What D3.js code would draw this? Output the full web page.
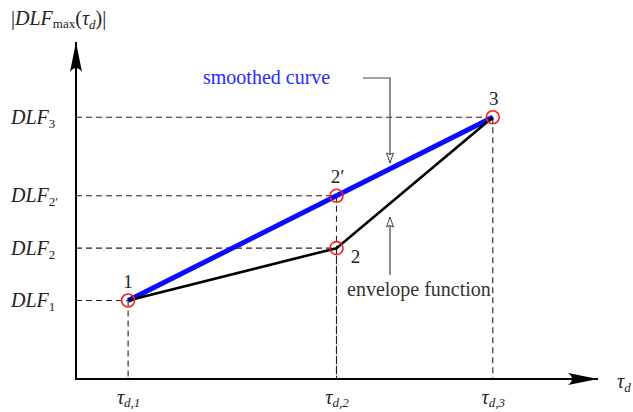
<!DOCTYPE html>
<html>
<head>
<meta charset="utf-8">
<script src="https://cdn.jsdelivr.net/npm/d3@7"></script>
<style>
  html, body { margin: 0; padding: 0; background: #fff; }
  svg { display: block; }
  text { font-family: "Liberation Serif", "DejaVu Serif", serif; fill: #222; }
</style>
</head>
<body>
<svg id="chart" width="633" height="412"></svg>
<script>
// Delay positions on the horizontal axis
const tauValues = [1, 5, 8];
const tauSubs = ["d,1", "d,2", "d,3"];

// DLF levels on the vertical axis
const dlfValues = [3, 5, 7, 10];
const dlfSubs = ["1", "2", "2\u2032", "3"];

// Envelope function: points 1, 2, 3
const envelopeX = [1, 5, 8];
const envelopeY = [3, 5, 10];

// Smoothed curve: points 1, 2', 3
const smoothX = [1, 5, 8];
const smoothY = [3, 7, 10];

// Labelled points
const pointNames = ["1", "2", "2\u2032", "3"];
const pointX = [1, 5, 5, 8];
const pointY = [3, 5, 7, 10];

const svg = d3.select("#chart");
const FS = "20px", SUB = "13px";

const x = d3.scaleLinear().domain([0, 10]).range([76, 597]);
const y = d3.scaleLinear().domain([0, 12.8]).range([379, 44]);

const x0 = x(0), y0 = y(0);

// Arrowhead markers (latex-style, concave back)
const defs = svg.append("defs");
defs.append("marker")
  .attr("id", "axisArrow")
  .attr("viewBox", "0 -6 30 12")
  .attr("refX", 30).attr("refY", 0)
  .attr("markerUnits", "userSpaceOnUse")
  .attr("markerWidth", 30).attr("markerHeight", 12)
  .attr("orient", "auto")
  .append("path")
  .attr("d", "M0,-6 Q8,0 0,6 L30,0 Z")
  .attr("fill", "#000");

defs.append("marker")
  .attr("id", "openArrow")
  .attr("viewBox", "-1 -5 12 10")
  .attr("refX", 10).attr("refY", 0)
  .attr("markerUnits", "userSpaceOnUse")
  .attr("markerWidth", 12).attr("markerHeight", 10)
  .attr("orient", "auto")
  .append("path")
  .attr("d", "M0,-3.5 Q3,0 0,3.5 L10,0 Z")
  .attr("fill", "#fff")
  .attr("stroke", "#444")
  .attr("stroke-width", 1);

// Axes drawn with d3 axis generators; tick lines hidden, labels customised
const xAxis = svg.append("g")
  .attr("transform", `translate(0,${y0})`)
  .call(d3.axisBottom(x).tickValues(tauValues).tickSize(0).tickPadding(0).tickFormat(""));
xAxis.select(".domain").remove();
xAxis.selectAll(".tick text").remove();
xAxis.selectAll(".tick").each(function(d, i) {
  const t = d3.select(this).append("text")
    .attr("y", 25)
    .attr("text-anchor", "middle")
    .style("font-size", FS);
  t.append("tspan").attr("font-style", "italic").text("\u03c4");
  t.append("tspan").attr("font-size", SUB).attr("font-style", "italic").attr("dy", 3).text(tauSubs[i]);
});

const yAxis = svg.append("g")
  .attr("transform", `translate(${x0},0)`)
  .call(d3.axisLeft(y).tickValues(dlfValues).tickSize(0).tickPadding(0).tickFormat(""));
yAxis.select(".domain").remove();
yAxis.selectAll(".tick text").remove();
yAxis.selectAll(".tick").each(function(d, i) {
  const t = d3.select(this).append("text")
    .attr("x", 11 - x0)
    .attr("y", 6)
    .attr("text-anchor", "start")
    .style("font-size", FS);
  t.append("tspan").attr("font-style", "italic").text("DLF");
  t.append("tspan").attr("font-size", SUB).attr("dy", 4).text(dlfSubs[i]);
});

// Axis lines with arrowheads
svg.append("line")
  .attr("x1", x0).attr("y1", y0).attr("x2", x0).attr("y2", 42)
  .attr("stroke", "#000").attr("stroke-width", 2)
  .attr("marker-end", "url(#axisArrow)");
svg.append("line")
  .attr("x1", x0 - 1).attr("y1", y0).attr("x2", 598).attr("y2", y0)
  .attr("stroke", "#000").attr("stroke-width", 2)
  .attr("marker-end", "url(#axisArrow)");

// Axis titles
const yTitle = svg.append("text").attr("x", 11).attr("y", 25).style("font-size", FS);
yTitle.append("tspan").text("|");
yTitle.append("tspan").attr("font-style", "italic").text("DLF");
yTitle.append("tspan").attr("font-size", SUB).attr("dy", 3).text("max");
yTitle.append("tspan").attr("dy", -3).text("(");
yTitle.append("tspan").attr("font-style", "italic").text("\u03c4");
yTitle.append("tspan").attr("font-size", SUB).attr("font-style", "italic").attr("dy", 4).text("d");
yTitle.append("tspan").attr("dy", -4).text(")|");

const xTitle = svg.append("text").attr("x", 617).attr("y", 388).style("font-size", FS);
xTitle.append("tspan").attr("font-style", "italic").text("\u03c4");
xTitle.append("tspan").attr("font-size", SUB).attr("font-style", "italic").attr("dy", 4).text("d");

// Dashed guide lines from each point to both axes
const guides = svg.append("g")
  .attr("stroke", "#222").attr("stroke-width", 1.1)
  .attr("stroke-dasharray", "6,4").attr("fill", "none");
pointX.forEach((px, i) => {
  guides.append("line")
    .attr("x1", x0).attr("y1", y(pointY[i]))
    .attr("x2", x(px)).attr("y2", y(pointY[i]));
});
pointX.forEach((px, i) => {
  guides.append("line")
    .attr("x1", x(px)).attr("y1", y(pointY[i]))
    .attr("x2", x(px)).attr("y2", y0);
});

// Smoothed curve (blue) and envelope function (black)
const line = d3.line().x(d => x(d[0])).y(d => y(d[1]));
svg.append("path")
  .datum(smoothX.map((v, i) => [v, smoothY[i]]))
  .attr("d", line)
  .attr("fill", "none").attr("stroke", "#0a0aff").attr("stroke-width", 5);
svg.append("path")
  .datum(envelopeX.map((v, i) => [v, envelopeY[i]]))
  .attr("d", line)
  .attr("fill", "none").attr("stroke", "#000").attr("stroke-width", 2.6)
  .attr("stroke-linejoin", "round");

// Red markers
svg.append("g").selectAll("circle")
  .data(pointX.map((v, i) => [v, pointY[i]]))
  .join("circle")
  .attr("cx", d => x(d[0])).attr("cy", d => y(d[1]))
  .attr("r", 6.5)
  .attr("fill", "none").attr("stroke", "#ff1a1a").attr("stroke-width", 1.6);

// Point labels
const labelOffsets = [[0, -12], [19, 15], [1, -13], [1, -12]];
svg.append("g").selectAll("text")
  .data(pointNames)
  .join("text")
  .attr("x", (d, i) => x(pointX[i]) + labelOffsets[i][0])
  .attr("y", (d, i) => y(pointY[i]) + labelOffsets[i][1])
  .attr("text-anchor", "middle")
  .style("font-size", "19px")
  .text(d => d);

// Annotations
svg.append("text")
  .attr("x", 203).attr("y", 84)
  .style("font-size", FS).style("fill", "#2a2aff")
  .text("smoothed curve");
svg.append("path")
  .attr("d", "M363,78 L390,78 L390,163")
  .attr("fill", "none").attr("stroke", "#444").attr("stroke-width", 1.2)
  .attr("marker-end", "url(#openArrow)");

svg.append("text")
  .attr("x", 347).attr("y", 296)
  .style("font-size", FS).style("fill", "#333")
  .text("envelope function");
svg.append("path")
  .attr("d", "M390,275 L390,217")
  .attr("fill", "none").attr("stroke", "#444").attr("stroke-width", 1.2)
  .attr("marker-end", "url(#openArrow)");
</script>
</body>
</html>
